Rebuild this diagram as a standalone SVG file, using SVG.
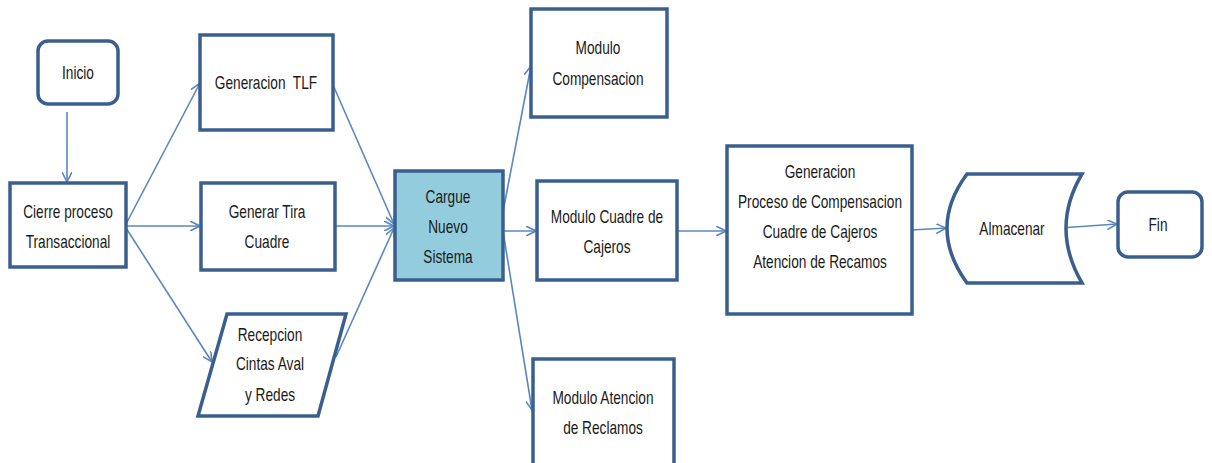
<svg xmlns="http://www.w3.org/2000/svg" width="1212" height="463" viewBox="0 0 1212 463">
<defs>
<style>
.box{fill:#ffffff;stroke:#3A5F8E;stroke-width:3.5;}
.hl{fill:#93CDDD;}
.t{font-family:"Liberation Sans",Arial,sans-serif;font-size:18px;fill:#1a1a1a;text-anchor:middle;}
.c{fill:none;stroke:#5B87C0;stroke-width:1.6;marker-end:url(#ah);}
</style>
<marker id="ah" viewBox="0 0 10 10" refX="10" refY="5" markerWidth="10" markerHeight="10" markerUnits="userSpaceOnUse" orient="auto">
<path d="M0,0 L10,5 L0,10" fill="none" stroke="#5B87C0" stroke-width="1.6"/>
</marker>
</defs>
<rect width="1212" height="463" fill="#ffffff"/>
<g id="connectors">
<line class="c" x1="67" y1="112" x2="67" y2="182"/>
<line class="c" x1="126" y1="224" x2="200" y2="83"/>
<line class="c" x1="126" y1="226" x2="200" y2="226"/>
<line class="c" x1="126" y1="228" x2="212" y2="362"/>
<line class="c" x1="333" y1="85" x2="394" y2="224"/>
<line class="c" x1="335" y1="226" x2="394" y2="226"/>
<line class="c" x1="336" y1="357" x2="394" y2="228"/>
<line class="c" x1="502" y1="217" x2="531" y2="66"/>
<line class="c" x1="493" y1="231" x2="536" y2="231"/>
<line class="c" x1="502" y1="225" x2="532" y2="410"/>
<line class="c" x1="677" y1="231" x2="726" y2="231"/>
<line class="c" x1="912" y1="230" x2="946" y2="228"/>
<line class="c" x1="1060" y1="228" x2="1117" y2="224"/>
</g>
<g id="inicio">
<rect class="box" x="38" y="41" width="80" height="63" rx="10"/>
<text class="t" transform="matrix(.76 0 0 1 78 0)" y="79">Inicio</text>
</g>
<g id="cierre">
<rect class="box" x="10" y="183" width="116" height="84"/>
<text class="t" transform="matrix(.76 0 0 1 68 0)" y="218">Cierre proceso</text>
<text class="t" transform="matrix(.76 0 0 1 68 0)" y="248">Transaccional</text>
</g>
<g id="gen-tlf">
<rect class="box" x="200" y="35" width="133" height="95"/>
<text class="t" transform="matrix(.76 0 0 1 266 0)" y="89" xml:space="preserve">Generacion  TLF</text>
</g>
<g id="gen-tira">
<rect class="box" x="201" y="183" width="134" height="87"/>
<text class="t" transform="matrix(.76 0 0 1 267 0)" y="218">Generar Tira</text>
<text class="t" transform="matrix(.76 0 0 1 267 0)" y="248">Cuadre</text>
</g>
<g id="recepcion">
<polygon class="box" points="227,314 346,314 318,416 198,416"/>
<text class="t" transform="matrix(.76 0 0 1 270 0)" y="341">Recepcion</text>
<text class="t" transform="matrix(.76 0 0 1 270 0)" y="370">Cintas Aval</text>
<text class="t" transform="matrix(.76 0 0 1 270 0)" y="401">y Redes</text>
</g>
<g id="cargue">
<rect class="box hl" x="395" y="171" width="108" height="109"/>
<text class="t" transform="matrix(.76 0 0 1 448 0)" y="203">Cargue</text>
<text class="t" transform="matrix(.76 0 0 1 448 0)" y="233">Nuevo</text>
<text class="t" transform="matrix(.76 0 0 1 448 0)" y="263">Sistema</text>
</g>
<g id="mod-comp">
<rect class="box" x="531" y="9" width="136" height="108"/>
<text class="t" transform="matrix(.76 0 0 1 598 0)" y="54">Modulo</text>
<text class="t" transform="matrix(.76 0 0 1 598 0)" y="85">Compensacion</text>
</g>
<g id="mod-cuadre">
<rect class="box" x="537" y="181" width="140" height="99"/>
<text class="t" transform="matrix(.76 0 0 1 607 0)" y="223">Modulo Cuadre de</text>
<text class="t" transform="matrix(.76 0 0 1 607 0)" y="253">Cajeros</text>
</g>
<g id="mod-atencion">
<rect class="box" x="533" y="359" width="141" height="120"/>
<text class="t" transform="matrix(.76 0 0 1 603 0)" y="404">Modulo Atencion</text>
<text class="t" transform="matrix(.76 0 0 1 603 0)" y="434">de Reclamos</text>
</g>
<g id="generacion">
<rect class="box" x="727" y="146" width="185" height="168"/>
<text class="t" transform="matrix(.76 0 0 1 820 0)" y="178">Generacion</text>
<text class="t" transform="matrix(.76 0 0 1 820 0)" y="208">Proceso de Compensacion</text>
<text class="t" transform="matrix(.76 0 0 1 820 0)" y="238">Cuadre de Cajeros</text>
<text class="t" transform="matrix(.76 0 0 1 820 0)" y="268">Atencion de Recamos</text>
</g>
<g id="almacenar">
<path class="box" d="M967,174 L1082,174 Q1050,228 1082,283 L967,283 Q927,228 967,174 Z"/>
<text class="t" transform="matrix(.76 0 0 1 1012 0)" y="235">Almacenar</text>
</g>
<g id="fin">
<rect class="box" x="1118" y="192" width="84" height="65" rx="10"/>
<text class="t" transform="matrix(.76 0 0 1 1158 0)" y="231">Fin</text>
</g>
</svg>
